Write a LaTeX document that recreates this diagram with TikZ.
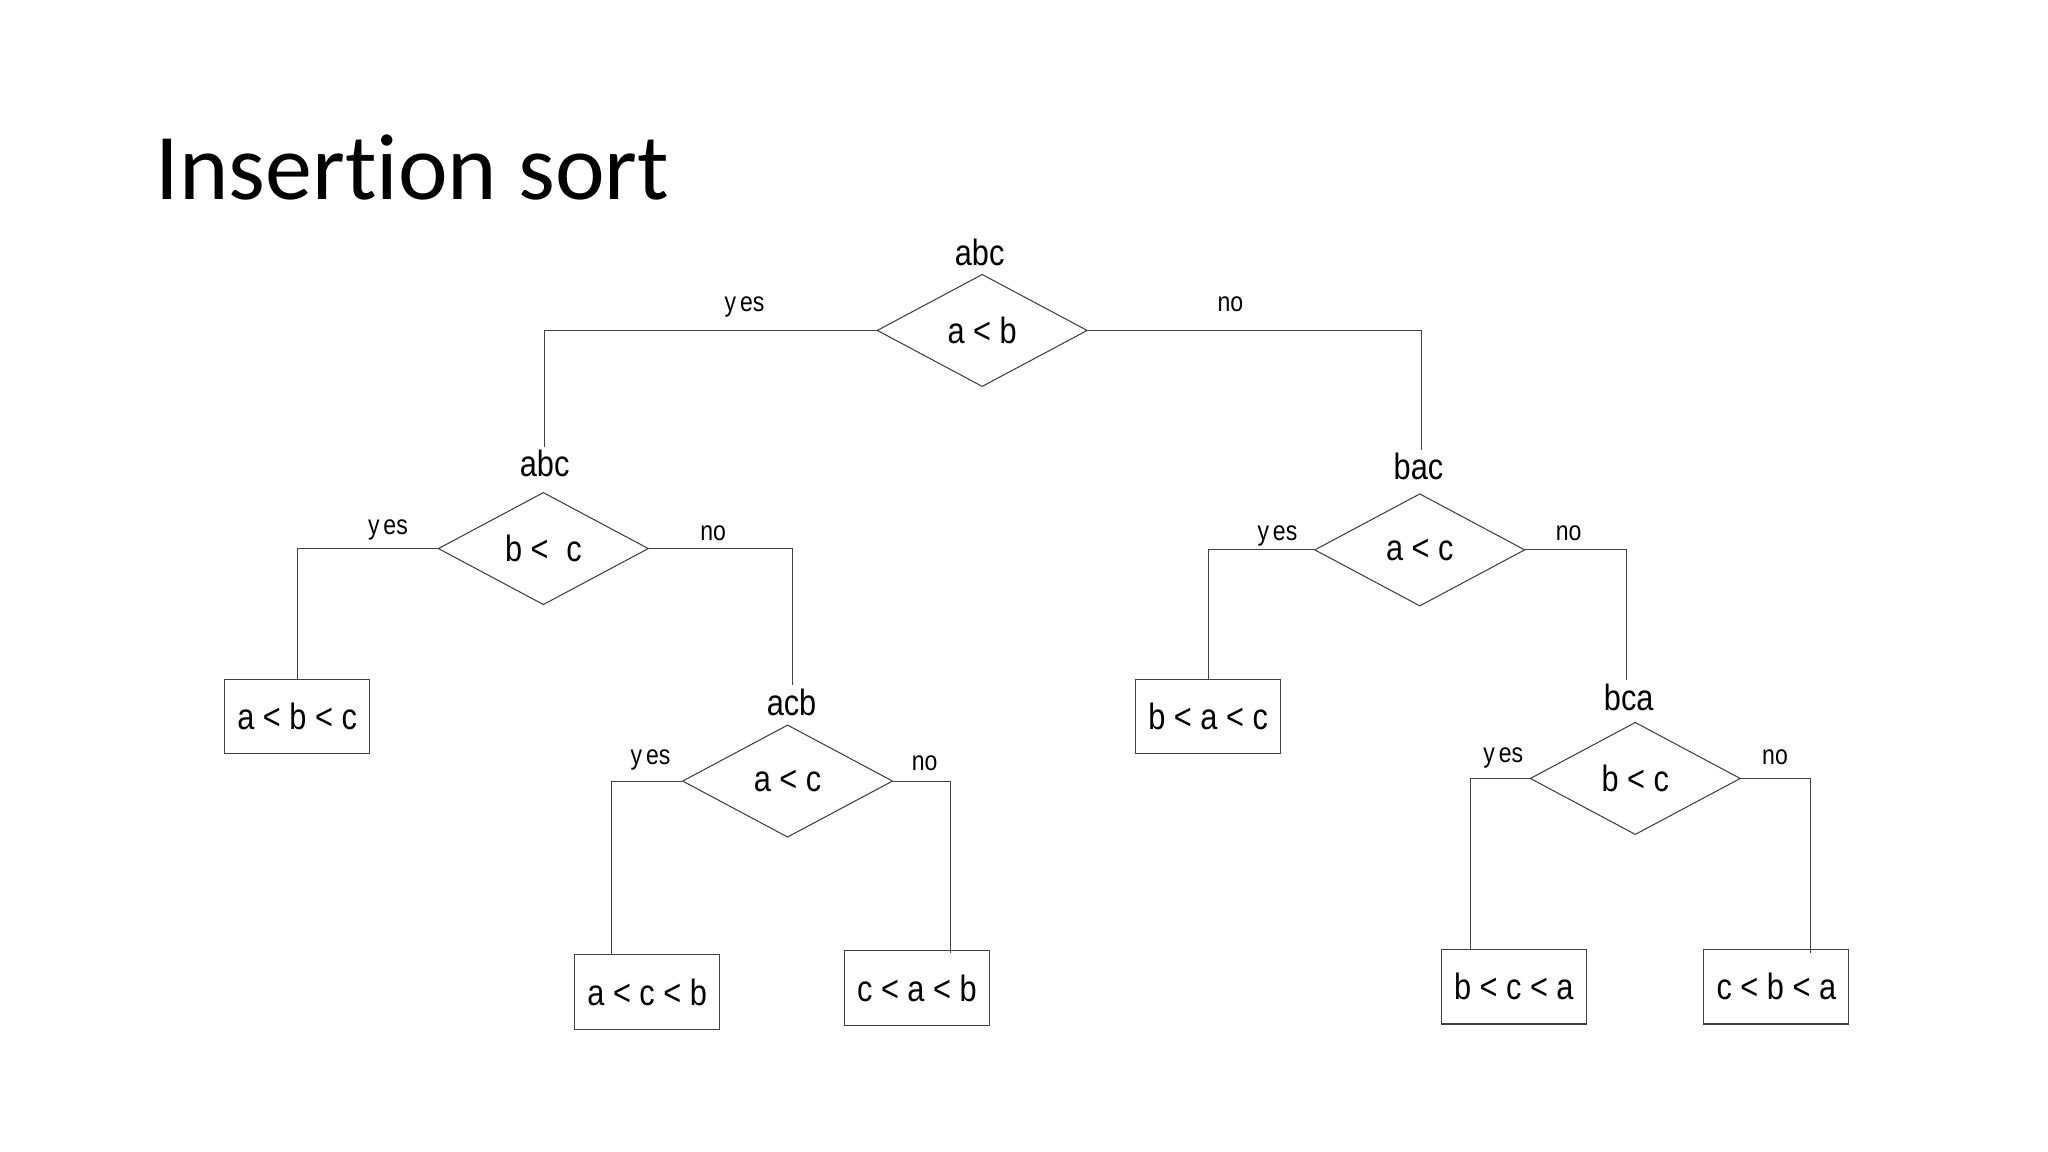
\documentclass[tikz,border=0pt]{standalone}
\usepackage{fontspec}
\setmainfont{Liberation Sans}
\newfontfamily\titlefont[Ligatures=NoCommon]{Carlito}
\newfontfamily\dfont[FakeStretch=0.84]{Liberation Sans}
\usetikzlibrary{shapes.geometric}
\begin{document}
\begin{tikzpicture}[x=1pt,y=-1pt,
  dec/.style={diamond, draw=black!75, line width=0.8pt, minimum width=161pt, minimum height=86pt, inner sep=0pt, font=\dfont\fontsize{28}{30}\selectfont},
  leaf/.style={rectangle, draw=black!75, line width=0.8pt, minimum width=111pt, minimum height=57pt, inner sep=0pt, font=\dfont\fontsize{28}{30}\selectfont},
  perm/.style={font=\dfont\fontsize{28}{30}\selectfont, inner sep=0pt},
  ans/.style={font=\dfont\fontsize{21}{24}\selectfont, inner sep=0pt},
  conn/.style={draw=black!75, line width=0.8pt}]
\fill[white] (0,0) rectangle (1568,882);
\useasboundingbox (0,0) rectangle (1568,882);
% title
\node[anchor=base west, inner sep=0pt, font=\titlefont\fontsize{72}{80}\selectfont] (title) at (119,153) {Insertion sort};
% decision nodes
\node[dec] (d1) at (752,253) {a < b};
\node[dec] (d2) at (416,420) {b <\hspace{0.25em} c};
\node[dec] (d3) at (603,598) {a < c};
\node[dec] (d4) at (1087,421) {a < c};
\node[dec] (d5) at (1252,596) {b < c};
% permutation labels
\node[perm] (p1) at (750,193) {abc};
\node[perm] (p2) at (417,355) {abc};
\node[perm] (p3) at (606,538) {acb};
\node[perm] (p4) at (1086,357) {bac};
\node[perm] (p5) at (1247,534) {bca};
% leaves
\node[leaf] (b1) at (227.5,548.5) {a < b < c};
\node[leaf] (b2) at (495.5,759.5) {a < c < b};
\node[leaf] (b3) at (702,756.5) {c < a < b};
\node[leaf] (b5) at (925,548.5) {b < a < c};
\node[leaf] (b6) at (1159,755.5) {b < c < a};
\node[leaf] (b7) at (1360,755.5) {c < b < a};
% yes / no labels
\node[ans] (y1) at (570,235) {y\kern3pt es};
\node[ans] (n1) at (942,233) {no};
\node[ans] (y2) at (297,406) {y\kern3pt es};
\node[ans] (n2) at (546,408) {no};
\node[ans] (y3) at (498,582) {y\kern3pt es};
\node[ans] (n3) at (708,584) {no};
\node[ans] (y4) at (978,410) {y\kern3pt es};
\node[ans] (n4) at (1201,408) {no};
\node[ans] (y5) at (1151,580) {y\kern3pt es};
\node[ans] (n5) at (1359,580) {no};
% connectors
\draw[conn] (d1.west) -| ([yshift=2pt]p2.north);
\draw[conn] (d1.east) -| ([xshift=2pt,yshift=2pt]p4.north);
\draw[conn] (d2.west) -| (b1.north);
\draw[conn] (d2.east) -| ([xshift=1pt,yshift=3pt]p3.north);
\draw[conn] (d3.west) -| ([xshift=-27.5pt]b2.north);
\draw[conn] (d3.east) -| ([xshift=26pt,yshift=-2pt]b3.north);
\draw[conn] (d4.west) -| (b5.north);
\draw[conn] (d4.east) -| ([xshift=-2pt,yshift=3pt]p5.north);
\draw[conn] (d5.west) -| ([xshift=-33pt]b6.north);
\draw[conn] (d5.east) -| ([xshift=26pt,yshift=-3pt]b7.north);
\end{tikzpicture}
\end{document}
